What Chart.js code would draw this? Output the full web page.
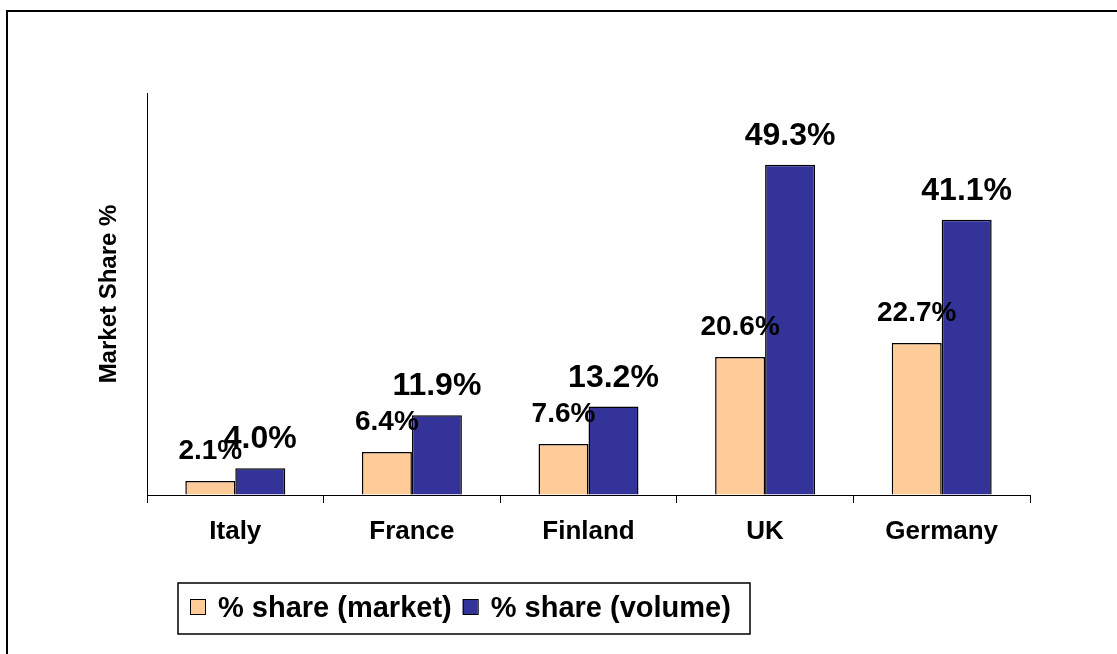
<!DOCTYPE html>
<html>
<head>
<meta charset="utf-8">
<title>Market Share %</title>
<script src="https://cdn.jsdelivr.net/npm/chart.js@4.4.1/dist/chart.umd.min.js"></script>
<style>
  html, body { margin: 0; padding: 0; background: #fff; overflow: hidden; }
  #wrap { position: relative; width: 1117px; height: 654px; overflow: hidden; }
  #frame { position: absolute; left: 6px; top: 10px; width: 1200px; height: 700px;
           border-left: 2px solid #000; border-top: 2px solid #000; pointer-events: none; }
  canvas { position: absolute; left: 0; top: 0; }
</style>
</head>
<body>
<div id="wrap">
  <canvas id="chart" width="1117" height="654"></canvas>
  <div id="frame"></div>
</div>
<script>
// values
const countries = ['Italy', 'France', 'Finland', 'UK', 'Germany'];
const marketShare = [2.1, 6.4, 7.6, 20.6, 22.7];
const volumeShare = [4.0, 11.9, 13.2, 49.3, 41.1];
const seriesNames = ['% share (market)', '% share (volume)'];
const seriesColors = ['#FFCC99', '#333399'];
const yMax = 60;

const FONT = "'Liberation Sans', Arial, sans-serif";
Chart.defaults.font.family = FONT;
Chart.defaults.color = '#000';

// value labels above each bar, market ones a little smaller
const barLabels = {
    id: 'barLabels',
    afterDatasetsDraw(chart) {
        const ctx = chart.ctx;
        const styles = [{size: 28, gap: 22}, {size: 32, gap: 20}];
        chart.data.datasets.forEach((ds, i) => {
            const meta = chart.getDatasetMeta(i);
            ctx.save();
            ctx.font = 'bold ' + styles[i].size + 'px ' + FONT;
            ctx.fillStyle = '#000';
            ctx.textAlign = 'center';
            ctx.textBaseline = 'alphabetic';
            meta.data.forEach((bar, j) => {
                ctx.fillText(ds.data[j].toFixed(1) + '%', bar.x, bar.y - styles[i].gap);
            });
            ctx.restore();
        });
    }
};

// boxed legend under the axis, like the excel one
const boxLegend = {
    id: 'boxLegend',
    afterDraw(chart) {
        const ctx = chart.ctx;
        const box = {x: 178, y: 583, w: 572, h: 51};
        ctx.save();
        ctx.strokeStyle = '#000';
        ctx.lineWidth = 1.5;
        ctx.strokeRect(box.x, box.y, box.w, box.h);
        ctx.font = 'bold 29px ' + FONT;
        ctx.textBaseline = 'middle';
        ctx.textAlign = 'left';
        let x = box.x + 12;
        chart.data.datasets.forEach(ds => {
            ctx.fillStyle = ds.backgroundColor;
            ctx.fillRect(x, 599, 15, 15);
            ctx.lineWidth = 1;
            ctx.strokeRect(x + 0.5, 599.5, 15, 15);
            x += 28;
            ctx.fillStyle = '#000';
            ctx.fillText(ds.label, x, 609);
            x += ctx.measureText(ds.label).width + 11;
        });
        ctx.restore();
    }
};

new Chart(document.getElementById('chart'), {
    type: 'bar',
    data: {
        labels: countries,
        datasets: [{
            label: seriesNames[0],
            data: marketShare,
            backgroundColor: seriesColors[0],
            borderColor: '#000',
            borderWidth: 1.5
        }, {
            label: seriesNames[1],
            data: volumeShare,
            backgroundColor: seriesColors[1],
            borderColor: '#000',
            borderWidth: 1.5
        }]
    },
    options: {
        responsive: false,
        animation: false,
        devicePixelRatio: 1,
        categoryPercentage: 0.566,
        barPercentage: 1,
        layout: {padding: {top: 93, right: 87, bottom: 79, left: 0}},
        plugins: {
            legend: {display: false},
            tooltip: {enabled: false}
        },
        scales: {
            x: {
                grid: {display: true, drawOnChartArea: false, drawTicks: true, tickLength: 8,
                       color: '#000', lineWidth: 1, offset: true},
                border: {display: true, color: '#000', width: 1},
                ticks: {font: {size: 26, weight: 'bold'}, color: '#000', padding: 13, maxRotation: 0},
                afterFit(s) { s.height = 80; }
            },
            y: {
                min: 0,
                max: yMax,
                ticks: {display: false},
                grid: {display: true, drawOnChartArea: false, drawTicks: false},
                border: {display: true, color: '#000', width: 1},
                title: {
                    display: true,
                    text: 'Market Share %',
                    font: {size: 24, weight: 'bold'},
                    color: '#000',
                    padding: {top: 95, bottom: 0}
                },
                afterFit(s) { s.width = 147; }
            }
        }
    },
    plugins: [barLabels, boxLegend]
});
</script>
</body>
</html>
